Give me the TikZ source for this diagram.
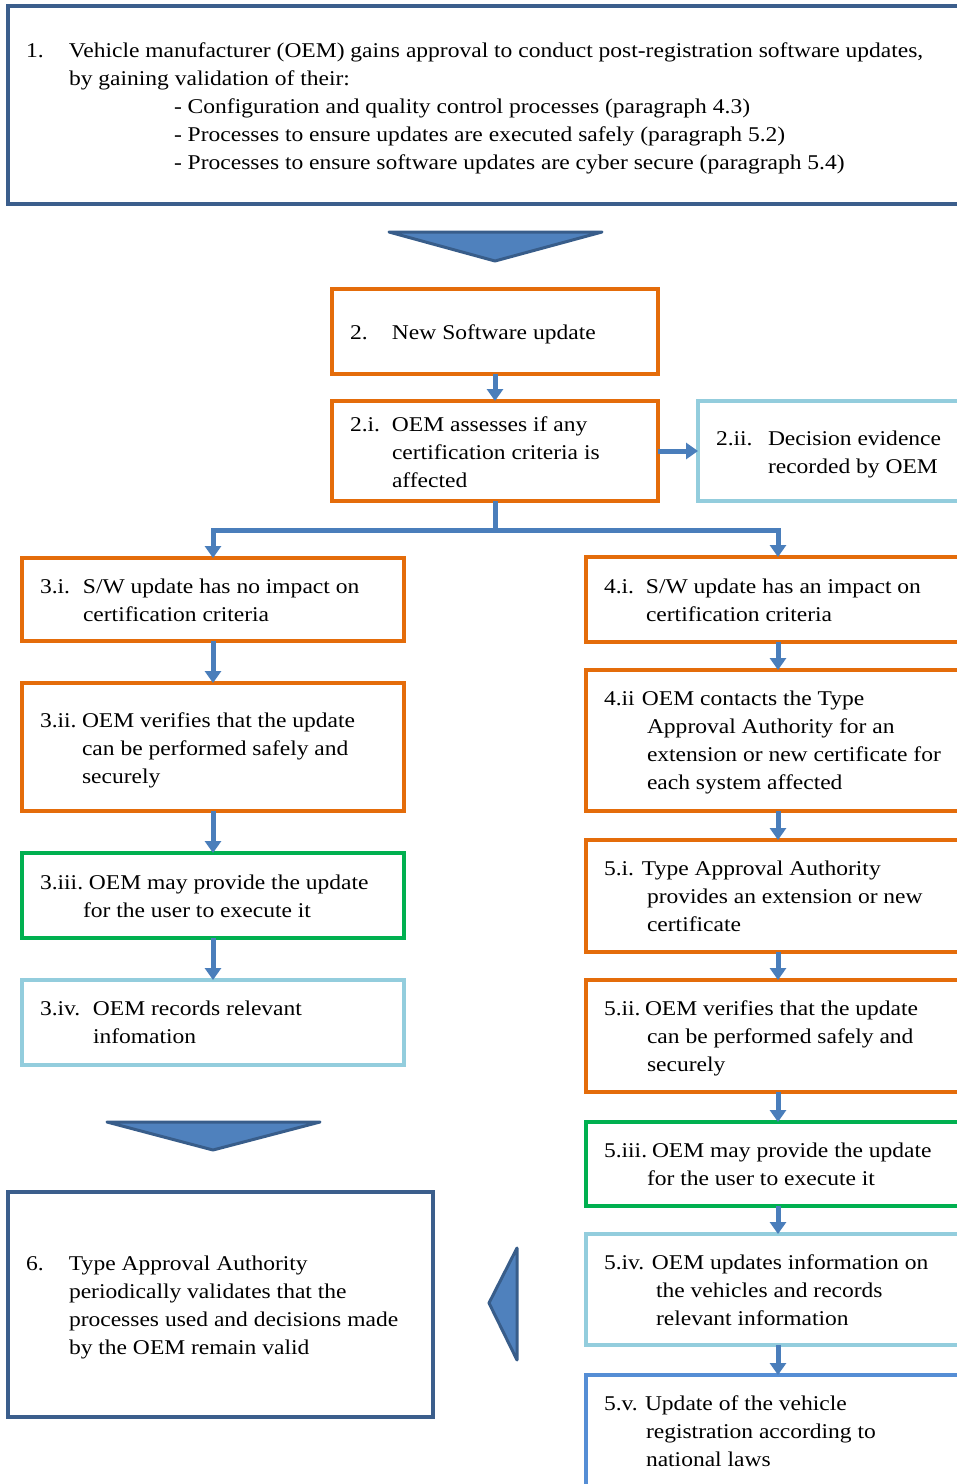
\documentclass[tikz,border=0pt]{standalone}
\usepackage{fontspec}
\setmainfont{Liberation Serif}[FakeStretch=1.12]
\usetikzlibrary{arrows.meta}
\definecolor{orng}{HTML}{E46C0A}
\definecolor{grn}{HTML}{00B050}
\definecolor{lblue}{HTML}{93CDDD}
\definecolor{dblue}{HTML}{3B5E8C}
\definecolor{mblue}{HTML}{558ED5}
\definecolor{fillblue}{HTML}{4F81BD}
\definecolor{edgeblue}{HTML}{385D8A}
\definecolor{arrblue}{HTML}{4A7EBB}
\newcommand{\Lb}[2]{\makebox[#1][l]{#2}}
\newcommand{\In}[1]{\hspace*{#1}}
\newcommand{\Tx}[1]{\begin{tabular}[t]{@{}l@{}}#1\end{tabular}}
\newcommand{\Bx}[6]{\node[boxs,draw=#2,minimum width={(#5)-(#3)},minimum height={(#6)-(#4)}] (#1) at ({((#3)+(#5))/2},{((#4)+(#6))/2}) {};}
\tikzset{
  boxs/.style={rectangle,line width=3.5pt,fill=white,inner sep=0pt,outer sep=0pt},
  txt/.style={anchor=base west,inner sep=0pt,outer sep=0pt,font=\fontsize{21}{28}\selectfont},
  conn/.style={draw=arrblue,line width=5pt,-{Triangle[width=16pt,length=12pt]}},
  blk/.style={fill=fillblue,draw=edgeblue,line width=3pt,line join=round},
}
\begin{document}
\begin{tikzpicture}[x=1pt,y=-1pt]
\clip (0,0) rectangle (957,1484);
\fill[white] (0,0) rectangle (957,1484);
% boxes
\Bx{b1}{dblue}{8}{6}{975}{204}
\Bx{b2}{orng}{332}{289}{658}{374}
\Bx{b2i}{orng}{332}{401}{658}{501}
\Bx{b2ii}{lblue}{698}{401}{975}{501}
\Bx{b31}{orng}{22}{558}{404}{641}
\Bx{b32}{orng}{22}{683}{404}{811}
\Bx{b33}{grn}{22}{853}{404}{938}
\Bx{b34}{lblue}{22}{980}{404}{1065}
\Bx{b41}{orng}{586}{557}{975}{642}
\Bx{b42}{orng}{586}{670}{975}{811}
\Bx{b51}{orng}{586}{840}{975}{952}
\Bx{b52}{orng}{586}{980}{975}{1092}
\Bx{b53}{grn}{586}{1122}{975}{1206}
\Bx{b54}{lblue}{586}{1234}{975}{1345}
\Bx{b55}{mblue}{586}{1375}{975}{1520}
\Bx{b6}{dblue}{8}{1192}{433}{1417}
% block arrows
\filldraw[blk] (389,232) -- (602,232) -- (495,261) -- cycle;
\filldraw[blk] (107,1122) -- (320,1122) -- (213,1150) -- cycle;
\filldraw[blk] (517,1248) -- (517,1360) -- (489,1303) -- cycle;
% connectors
\coordinate (rc) at (778,0);
\coordinate (br) at (495,530);
\draw[conn] (b2.south) -- (b2i.north);
\draw[conn] (b2i.east) -- (b2ii.west);
\draw[conn,-] (b2i.south) -- (br);
\draw[conn] (br) -| (b31.north);
\draw[conn] (br) -| (b41.north -| rc);
\draw[conn] (b31.south) -- (b32.north);
\draw[conn] (b32.south) -- (b33.north);
\draw[conn] (b33.south) -- (b34.north);
\draw[conn] (b41.south -| rc) -- (b42.north -| rc);
\draw[conn] (b42.south -| rc) -- (b51.north -| rc);
\draw[conn] (b51.south -| rc) -- (b52.north -| rc);
\draw[conn] (b52.south -| rc) -- (b53.north -| rc);
\draw[conn] (b53.south -| rc) -- (b54.north -| rc);
\draw[conn] (b54.south -| rc) -- (b55.north -| rc);
% texts
\node[txt] (t1) at (26,57) {\Tx{\Lb{43pt}{1.}Vehicle manufacturer (OEM) gains approval to conduct post-registration software updates,\\
\In{43pt}by gaining validation of their:\\
\In{148pt}- Configuration and quality control processes (paragraph 4.3)\\
\In{148pt}- Processes to ensure updates are executed safely (paragraph 5.2)\\
\In{148pt}- Processes to ensure software updates are cyber secure (paragraph 5.4)}};
\node[txt] (t2) at (350,339) {\Tx{\Lb{42pt}{2.}New Software update}};
\node[txt] (t2i) at (350,431) {\Tx{\Lb{42pt}{2.i.}OEM assesses if any\\ \In{42pt}certification criteria is\\ \In{42pt}affected}};
\node[txt] (t2ii) at (716,445) {\Tx{\Lb{52pt}{2.ii.}Decision evidence\\ \In{52pt}recorded by OEM}};
\node[txt] (t31) at (40,593) {\Tx{\Lb{43pt}{3.i.}S/W update has no impact on\\ \In{43pt}certification criteria}};
\node[txt] (t32) at (40,727) {\Tx{\Lb{42pt}{3.ii.}OEM verifies that the update\\ \In{42pt}can be performed safely and\\ \In{42pt}securely}};
\node[txt] (t33) at (40,889) {\Tx{\Lb{49pt}{3.iii.}OEM may provide the update\\ \In{43pt}for the user to execute it}};
\node[txt] (t34) at (40,1015) {\Tx{\Lb{53pt}{3.iv.}OEM records relevant\\ \In{53pt}infomation}};
\node[txt] (t41) at (604,593) {\Tx{\Lb{42pt}{4.i.}S/W update has an impact on\\ \In{42pt}certification criteria}};
\node[txt] (t42) at (604,705) {\Tx{\Lb{38pt}{4.ii}OEM contacts the Type\\ \In{43pt}Approval Authority for an\\ \In{43pt}extension or new certificate for\\ \In{43pt}each system affected}};
\node[txt] (t51) at (604,875) {\Tx{\Lb{38pt}{5.i.}Type Approval Authority\\ \In{43pt}provides an extension or new\\ \In{43pt}certificate}};
\node[txt] (t52) at (604,1015) {\Tx{\Lb{41pt}{5.ii.}OEM verifies that the update\\ \In{43pt}can be performed safely and\\ \In{43pt}securely}};
\node[txt] (t53) at (604,1157) {\Tx{\Lb{48pt}{5.iii.}OEM may provide the update\\ \In{43pt}for the user to execute it}};
\node[txt] (t54) at (604,1269) {\Tx{\Lb{48pt}{5.iv.}OEM updates information on\\ \In{52pt}the vehicles and records\\ \In{52pt}relevant information}};
\node[txt] (t55) at (604,1410) {\Tx{\Lb{41pt}{5.v.}Update of the vehicle\\ \In{42pt}registration according to\\ \In{42pt}national laws}};
\node[txt] (t6) at (26,1270) {\Tx{\Lb{43pt}{6.}Type Approval Authority\\ \In{43pt}periodically validates that the\\ \In{43pt}processes used and decisions made\\ \In{43pt}by the OEM remain valid}};
\end{tikzpicture}
\end{document}
